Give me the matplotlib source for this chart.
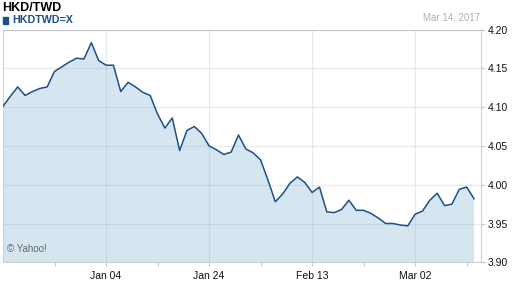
import matplotlib.pyplot as plt
import numpy as np

plt.rcParams['font.family'] = ['Liberation Sans', 'DejaVu Sans']

### data ###
rates = [4.101, 4.114, 4.126, 4.115, 4.120, 4.124, 4.126, 4.146, 4.152, 4.158,
         4.163, 4.162, 4.183, 4.160, 4.154, 4.154, 4.120, 4.132, 4.126, 4.119,
         4.115, 4.091, 4.073, 4.086, 4.044, 4.070, 4.075, 4.066, 4.050, 4.045,
         4.039, 4.042, 4.064, 4.046, 4.041, 4.032, 4.006, 3.978, 3.988, 4.002,
         4.010, 4.003, 3.990, 3.997, 3.965, 3.964, 3.968, 3.980, 3.967, 3.967,
         3.963, 3.957, 3.950, 3.950, 3.948, 3.947, 3.962, 3.966, 3.980, 3.989,
         3.973, 3.975, 3.994, 3.997, 3.982]
date_ticks = [14, 28, 42, 56]
date_labels = ['Jan 04', 'Jan 24', 'Feb 13', 'Mar 02']
minor_ticks = [7, 21, 35, 49, 63]
y_ticks = [3.90, 3.95, 4.00, 4.05, 4.10, 4.15, 4.20]

x = np.arange(len(rates))
line_c = '#1d5089'
fill_c = '#d6e6f1'

fig = plt.figure(figsize=(5.12, 2.88), dpi=100)
ax = fig.add_axes([3/512, 1 - 262.3/288, 478/512, 232.8/288])

ax.fill_between(x, rates, 3.80, color=fill_c, lw=0, zorder=1)
ax.plot(x, rates, color=line_c, lw=1.1, zorder=3)

ax.set_xlim(0, 64.95)
ax.set_ylim(3.90, 4.20)
ax.set_xticks(date_ticks)
ax.set_xticklabels(date_labels)
ax.set_xticks(minor_ticks, minor=True)
ax.set_yticks(y_ticks)
ax.set_yticklabels(['%.2f' % v for v in y_ticks])
ax.yaxis.tick_right()

ax.grid(True, which='major', color='#8aa0b8', alpha=0.2, lw=0.9, zorder=2)
ax.set_axisbelow(False)
for s in ax.spines.values():
    s.set_color('#d0d0d0')
    s.set_linewidth(0.8)
ax.tick_params(axis='both', which='both', length=3, width=0.8, color='#c8c8c8',
               labelsize=7.5, labelcolor='#111111', pad=2)
ax.tick_params(axis='x', which='major', pad=3)

fig.text(2/512, 1 - 8/288, 'HKD/TWD', fontsize=9, fontweight='bold',
         color='black', va='center', ha='left')
fig.patches.append(plt.Rectangle((3/512, 1 - 24/288), 5/512, 7/288,
                                 transform=fig.transFigure, color=line_c))
fig.text(12/512, 1 - 20/288, 'HKDTWD=X', fontsize=7.7, fontweight='bold',
         color=line_c, va='center', ha='left')
fig.text(480/512, 1 - 18/288, 'Mar 14, 2017', fontsize=7, color='#b0b0b0',
         va='center', ha='right')
ax.text(0.008, 0.035, '\u00a9 Yahoo!', transform=ax.transAxes, fontsize=7,
        color='#666666', va='bottom', ha='left')

plt.savefig('out.png', dpi=100)
